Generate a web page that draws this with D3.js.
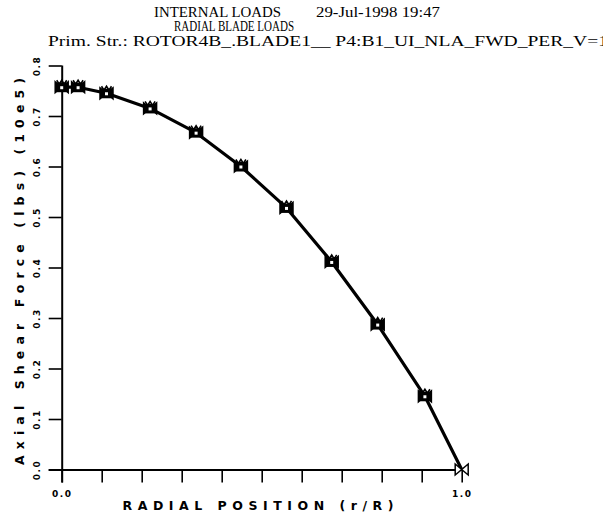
<!DOCTYPE html>
<html>
<head>
<meta charset="utf-8">
<script src="https://cdn.jsdelivr.net/npm/d3@7"></script>
<style>
  html, body { margin: 0; padding: 0; background: #fff; }
  svg { display: block; }
</style>
</head>
<body>
<div id="chart"></div>
<script>
// ---- data ----
const titleLines = ["INTERNAL LOADS", "RADIAL BLADE LOADS", "Prim. Str.: ROTOR4B_.BLADE1__ P4:B1_UI_NLA_FWD_PER_V=1"];
const timestamp = "29-Jul-1998 19:47";
const xTitle = "RADIAL POSITION (r/R)";
const yTitle = "Axial Shear Force (lbs) (10e5)";
const radialPos = [0.0, 0.041, 0.112, 0.221, 0.336, 0.448, 0.562, 0.675, 0.790, 0.908, 1.0];
const shearForce = [0.757, 0.757, 0.745, 0.715, 0.667, 0.600, 0.518, 0.411, 0.287, 0.145, 0.0];
const xTickValues = [0, 0.1, 0.2, 0.3, 0.4, 0.5, 0.6, 0.7, 0.8, 0.9, 1.0];
const xTickLabels = ["0.0", "", "", "", "", "", "", "", "", "", "1.0"];
const yTickValues = [0, 0.1, 0.2, 0.3, 0.4, 0.5, 0.6, 0.7, 0.8];
const yTickLabels = ["0.0", "0.1", "0.2", "0.3", "0.4", "0.5", "0.6", "0.7", "0.8"];

// ---- layout ----
const W = 603, H = 519;
const plot = { left: 61.7, right: 461.7, top: 65.5, bottom: 469.5 };

const svg = d3.select("#chart").append("svg").attr("width", W).attr("height", H);

const x = d3.scaleLinear().domain([0, 1]).range([plot.left, plot.right]);
const y = d3.scaleLinear().domain([0, 0.8]).range([plot.bottom, plot.top]);

// titles
const serif = "'Liberation Serif', 'Times New Roman', serif";
const fs = 15.5;
svg.append("text").attr("x", 154).attr("y", 17).attr("font-family", serif).attr("font-size", fs)
  .attr("textLength", 127).attr("lengthAdjust", "spacingAndGlyphs").text(titleLines[0]);
svg.append("text").attr("x", 316).attr("y", 17).attr("font-family", serif).attr("font-size", fs)
  .attr("textLength", 124).attr("lengthAdjust", "spacingAndGlyphs").text(timestamp);
svg.append("text").attr("x", 174).attr("y", 31).attr("font-family", serif).attr("font-size", fs)
  .attr("textLength", 120).attr("lengthAdjust", "spacingAndGlyphs").text(titleLines[1]);
svg.append("text").attr("x", 48).attr("y", 45.5).attr("font-family", serif).attr("font-size", fs)
  .attr("textLength", 560).attr("lengthAdjust", "spacingAndGlyphs").text(titleLines[2]);

// axes
const tickFont = "'DejaVu Sans', sans-serif";
const xAxis = d3.axisBottom(x).tickValues(xTickValues).tickSize(13).tickSizeOuter(0)
  .tickFormat((d, i) => xTickLabels[i]);
const gx = svg.append("g").attr("transform", `translate(0,${plot.bottom})`).call(xAxis);
gx.select(".domain").attr("stroke", "#000").attr("stroke-width", 2)
  .attr("d", `M${plot.left - 13},0.5H${plot.right}`);
gx.selectAll(".tick line").attr("stroke", "#000").attr("stroke-width", 1.6);
gx.selectAll(".tick text").attr("font-family", tickFont).attr("font-weight", "bold")
  .attr("font-size", 9).attr("letter-spacing", 1.5).attr("fill", "#000").attr("dy", 0).attr("y", 27);

const yAxis = d3.axisLeft(y).tickValues(yTickValues).tickSize(13).tickSizeOuter(0)
  .tickFormat((d, i) => yTickLabels[i]);
const gy = svg.append("g").attr("transform", `translate(${plot.left},0)`).call(yAxis);
gy.select(".domain").attr("stroke", "#000").attr("stroke-width", 2)
  .attr("d", `M0.5,${plot.top}V${plot.bottom + 13}`);
gy.selectAll(".tick line").attr("stroke", "#000").attr("stroke-width", 1.6);
gy.selectAll(".tick text").remove();
gy.selectAll(".tick").append("text")
  .attr("transform", "translate(-25,0) rotate(-90)")
  .attr("text-anchor", "middle").attr("dy", "0.35em")
  .attr("font-family", tickFont).attr("font-weight", "bold").attr("font-size", 9)
  .attr("letter-spacing", 1.5).attr("fill", "#000")
  .text((d, i) => yTickLabels[i]);

// axis titles
svg.append("text").attr("x", 258).attr("y", 510).attr("text-anchor", "middle")
  .attr("font-family", tickFont).attr("font-size", 12.5).attr("font-weight", "bold")
  .attr("textLength", 271).attr("lengthAdjust", "spacing").text(xTitle);
svg.append("text").attr("transform", `translate(24,${(78 + 465) / 2}) rotate(-90)`)
  .attr("text-anchor", "middle")
  .attr("font-family", tickFont).attr("font-size", 12.5).attr("font-weight", "bold")
  .attr("textLength", 387).attr("lengthAdjust", "spacing").text(yTitle);

// line
const pts = radialPos.map((r, i) => [r, shearForce[i]]);
const line = d3.line().x(d => x(d[0])).y(d => y(d[1]));
svg.append("path").datum(pts).attr("d", line).attr("fill", "none")
  .attr("stroke", "#000").attr("stroke-width", 3.2).attr("stroke-linejoin", "round");

// markers
const mk = svg.append("g").selectAll("g").data(pts).join("g")
  .attr("transform", d => `translate(${x(d[0])},${y(d[1])})`);
mk.append("path")
  .attr("d", "M-6.5,-5.5L0,0L-6.5,5.5Z M6.5,-5.5L0,0L6.5,5.5Z")
  .attr("fill", (d, i) => i === pts.length - 1 ? "#fff" : "#000")
  .attr("stroke", "#000").attr("stroke-width", 1.5).attr("stroke-linejoin", "miter");
mk.filter((d, i) => i < pts.length - 1).append("rect")
  .attr("x", -5).attr("y", -4.5).attr("width", 10).attr("height", 9.5).attr("fill", "#000");
mk.filter((d, i) => i < pts.length - 1).append("path")
  .attr("d", "M-5,-7L-2.5,-3L0,-7L2.5,-3L5,-7")
  .attr("fill", "none").attr("stroke", "#000").attr("stroke-width", 1.6);
mk.filter((d, i) => i < pts.length - 1).append("rect")
  .attr("x", -1.5).attr("y", -1).attr("width", 3).attr("height", 3).attr("fill", "#fff");
</script>
</body>
</html>
